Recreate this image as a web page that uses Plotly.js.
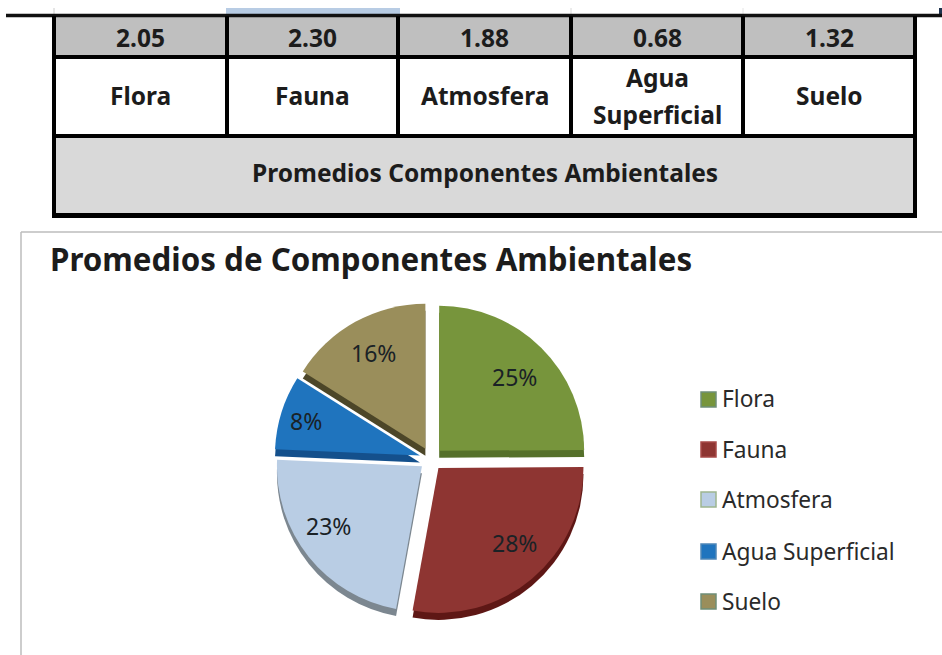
<!DOCTYPE html>
<html>
<head>
<meta charset="utf-8">
<script src="https://cdn.plot.ly/plotly-3.0.0.min.js"></script>
<style>html,body{margin:0;padding:0;background:#fff}#c{width:942px;height:655px}</style>
</head>
<body>
<div id="c"></div>
<script>
var categories = ["Flora", "Fauna", "Atmosfera", "Agua Superficial", "Suelo"];
var tableLabels = ["Flora", "Fauna", "Atmosfera", "Agua<br>Superficial", "Suelo"];
var values = [2.05, 2.30, 1.88, 0.68, 1.32];
var valueLabels = ["2.05", "2.30", "1.88", "0.68", "1.32"];
var sliceColors = ["#77953c", "#8e3532", "#b9cde4", "#1f74be", "#9a8e5b"];
var edgeColors = ["#55702a", "#5e1715", "#7c8790", "#14508c", "#4c4628"];
var swatchBorders = ["#6f8f78", "#a84a48", "#9db58e", "#4f86b8", "#6f8f78"];
var tableTitle = "Promedios Componentes Ambientales";
var chartTitle = "Promedios de Componentes Ambientales";

var W = 942, H = 655;
var FONT = "'Noto Sans', 'Open Sans', sans-serif";
function px(x) { return x / W; }
function py(y) { return 1 - y / H; }
function rect(x0, y0, x1, y1, fill) {
  return {type: "rect", xref: "paper", yref: "paper", x0: px(x0), x1: px(x1), y0: py(y0), y1: py(y1),
          fillcolor: fill, line: {width: 0}, layer: "below"};
}
function border(x0, y0, x1, y1, fill, color, w) {
  return {type: "rect", xref: "paper", yref: "paper", x0: px(x0), x1: px(x1), y0: py(y0), y1: py(y1),
          fillcolor: fill, line: {width: w, color: color}, layer: "below"};
}
function seg(x0, y0, x1, y1, color, w) {
  return {type: "line", xref: "paper", yref: "paper", x0: px(x0), x1: px(x1), y0: py(y0), y1: py(y1),
          line: {color: color, width: w}, layer: "below"};
}
function note(x, y, text, size, bold, anchor, color) {
  return {xref: "paper", yref: "paper", x: px(x), y: py(y), text: bold ? "<b>" + text + "</b>" : text,
          showarrow: false, xanchor: anchor || "center", yanchor: "middle",
          font: {family: FONT, size: size, color: color || "#1c1c1c"}};
}

var colEdges = [54, 227, 398, 571, 743, 915];
var shapes = [], annotations = [];

// page fragments above the table
shapes.push(rect(226, 8, 400, 15, "#b8cce4"));
shapes.push(seg(54, 8, 54, 14, "#cccccc", 1));
shapes.push(seg(571, 8, 571, 14, "#d8d8d8", 1));
shapes.push(seg(743, 8, 743, 14, "#e4e4e4", 1));
shapes.push(rect(939, 8, 942, 15, "#20344f"));

// table rows
shapes.push(rect(54, 17, 915, 57, "#bfbfbf"));
shapes.push(rect(54, 57, 915, 136, "#ffffff"));
shapes.push(rect(54, 136, 915, 216, "#d9d9d9"));
// table rules
shapes.push(seg(6, 15.5, 942, 15.5, "#111111", 3.5));
shapes.push(seg(54, 57, 915, 57, "#000000", 4));
shapes.push(seg(54, 136, 915, 136, "#000000", 4));
shapes.push(seg(52, 215.5, 917, 215.5, "#000000", 5));
colEdges.forEach(function (x) { shapes.push(seg(x, 16, x, x === 54 || x === 915 ? 216 : 136, "#000000", 4)); });

categories.forEach(function (c, i) {
  var cx = (colEdges[i] + colEdges[i + 1]) / 2;
  annotations.push(note(cx, 38, valueLabels[i], 24.5, true));
  var lines = tableLabels[i].split("<br>");
  lines.forEach(function (t, k) {
    annotations.push(note(cx, 96 + (k - (lines.length - 1) / 2) * 37, t, 24.5, true));
  });
});
annotations.push(note(485, 173, tableTitle, 24.5, true));

// chart frame
shapes.push(seg(21, 232, 942, 232, "#bdbdbd", 1.5));
shapes.push(seg(21, 232, 21, 655, "#bdbdbd", 1.5));
annotations.push(note(48, 259, chartTitle, 31.3, true, "left"));

// legend
var legendY = [399, 449, 499, 551, 601];
categories.forEach(function (c, i) {
  shapes.push(border(701, legendY[i] - 7, 716, legendY[i] + 8, sliceColors[i], swatchBorders[i], 1.5));
  annotations.push(note(720, legendY[i], c, 22.7, false, "left", "#2a2a2a"));
});

// pie geometry
var pull = 0.08, R = 145, cx = 431, cy = 459, depth = 7;
var half = R * (1 + pull);
var labelRadii = [117, 117, 123, 132, 122];
var labelAngleShift = [0, -5, 6, 0, 0];
function trace(colors, shift) {
  return {
    type: "pie", labels: categories, values: values, sort: false, direction: "clockwise", rotation: 0,
    pull: pull, marker: {colors: colors, line: {width: 0}}, showlegend: false, hoverinfo: "none",
    domain: {x: [px(cx - half), px(cx + half)], y: [py(cy + half + shift), py(cy - half + shift)]},
    textinfo: "none"
  };
}
var data = [trace(edgeColors, depth), trace(sliceColors, 0)];

// percentage labels placed from each slice's share
var total = values.reduce(function (a, b) { return a + b; }, 0);
var cum = 0;
values.forEach(function (v, i) {
  var mid = (cum + v / 2) / total * 2 * Math.PI + labelAngleShift[i] * Math.PI / 180;
  cum += v;
  annotations.push(note(432 + labelRadii[i] * Math.sin(mid), 460 - labelRadii[i] * Math.cos(mid),
    Math.round(v / total * 100) + "%", 23, false, "center", "#1a2226"));
});

Plotly.newPlot("c", data, {
  width: W, height: H, margin: {l: 0, r: 0, t: 0, b: 0},
  paper_bgcolor: "#ffffff", showlegend: false, shapes: shapes, annotations: annotations
}, {displayModeBar: false, staticPlot: true});
</script>
</body>
</html>
